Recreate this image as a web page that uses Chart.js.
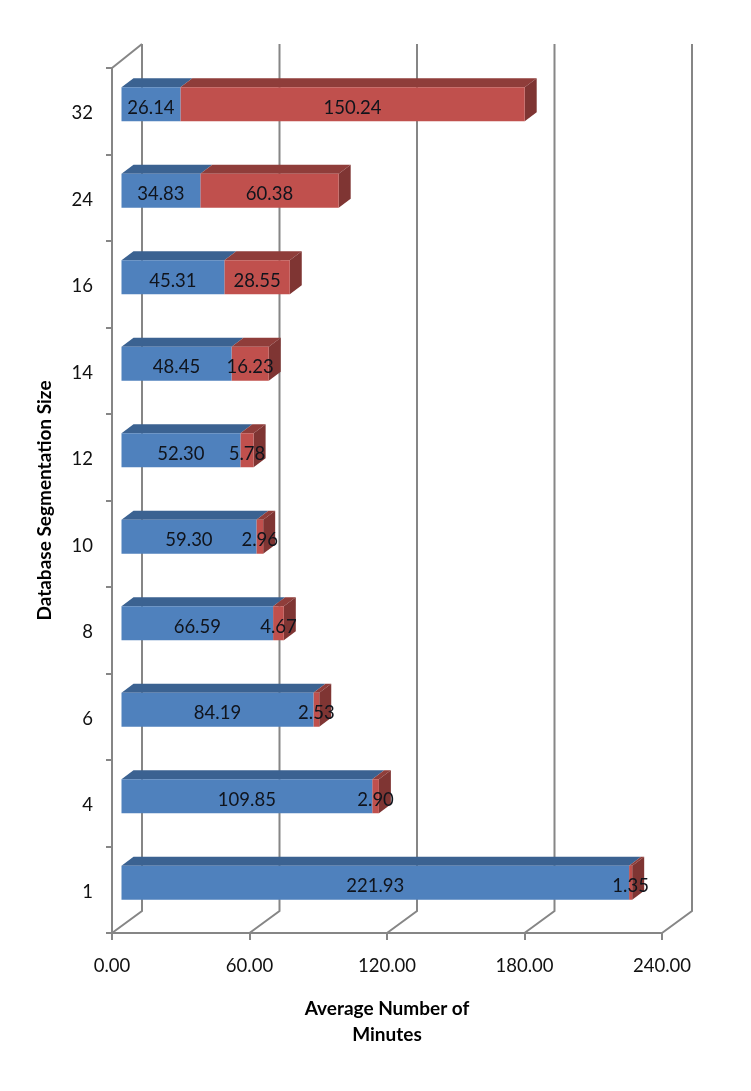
<!DOCTYPE html>
<html>
<head>
<meta charset="utf-8">
<title>Average Number of Minutes</title>
<script src="https://cdn.jsdelivr.net/npm/chart.js@4/dist/chart.umd.min.js"></script>
<style>
  html, body { margin: 0; padding: 0; background: #fff; }
  canvas { display: block; }
</style>
</head>
<body>
<canvas id="chart" width="751" height="1091"></canvas>
<script>
const categories = ['1', '4', '6', '8', '10', '12', '14', '16', '24', '32'];
const blueValues = [221.93, 109.85, 84.19, 66.59, 59.30, 52.30, 48.45, 45.31, 34.83, 26.14];
const redValues = [1.35, 2.90, 2.53, 4.67, 2.96, 5.78, 16.23, 28.55, 60.38, 150.24];
const xTickLabels = ['0.00', '60.00', '120.00', '180.00', '240.00'];
const yTitle = 'Database Segmentation Size';
const xTitle = ['Average Number of', 'Minutes'];

const FONT = 'Lato, Carlito, sans-serif';
const AXIS = '#868686';
// offsets of the fake 3d look
const wallDx = 30, wallDy = -22;
const barDx = 8.5, barDy = -7;
const depthDx = 12, depthDy = -9;

function poly(ctx, pts, color) {
    ctx.fillStyle = color;
    ctx.beginPath();
    pts.forEach((p, i) => i ? ctx.lineTo(p[0], p[1]) : ctx.moveTo(p[0], p[1]));
    ctx.closePath();
    ctx.fill();
}

const fake3d = {
    id: 'fake3d',
    beforeDatasetsDraw(chart) {
        const { ctx, chartArea: a, scales: { x } } = chart;
        ctx.save();
        ctx.strokeStyle = AXIS;
        ctx.lineWidth = 2;
        // walls: floor slants and back gridlines
        x.ticks.forEach((t, i) => {
            const px = x.getPixelForTick(i);
            ctx.beginPath();
            ctx.moveTo(px, a.bottom);
            ctx.lineTo(px + wallDx, a.bottom + wallDy);
            ctx.lineTo(px + wallDx, a.top + wallDy - 2);
            ctx.stroke();
        });
        ctx.beginPath();
        ctx.moveTo(a.left, a.top);
        ctx.lineTo(a.left + wallDx, a.top + wallDy - 2);
        ctx.stroke();
        ctx.restore();

        // top and side faces of the bars
        const tops = ['#3B6291', '#8F3D3A'];
        chart.data.datasets.forEach((ds, di) => {
            chart.getDatasetMeta(di).data.forEach(bar => {
                const t = bar.y - bar.height / 2 + barDy;
                const b = bar.y + bar.height / 2 + barDy;
                const l = bar.base + barDx;
                const r = bar.x + barDx;
                poly(ctx, [[l, t], [l + depthDx, t + depthDy], [r + depthDx, t + depthDy], [r, t]], tops[di]);
                if (di === 1) {
                    poly(ctx, [[r, t], [r + depthDx, t + depthDy], [r + depthDx, b + depthDy], [r, b]], '#7F3533');
                }
            });
        });
    },
    beforeDatasetDraw(chart) {
        chart.ctx.save();
        chart.ctx.translate(barDx, barDy);
    },
    afterDatasetDraw(chart) {
        chart.ctx.restore();
    },
    afterDraw(chart) {
        const { ctx } = chart;
        ctx.save();
        ctx.fillStyle = '#10141c';
        ctx.font = '18.5px ' + FONT;
        ctx.textAlign = 'center';
        ctx.textBaseline = 'middle';
        // value labels centred on each segment
        chart.data.datasets.forEach((ds, di) => {
            chart.getDatasetMeta(di).data.forEach((bar, i) => {
                ctx.fillText(ds.data[i].toFixed(2), (bar.x + bar.base) / 2 + barDx, bar.y + barDy + 3.5);
            });
        });
        ctx.restore();
    }
};

new Chart(document.getElementById('chart'), {
    type: 'bar',
    data: {
        labels: categories,
        datasets: [
            { label: 'Series 1', data: blueValues, backgroundColor: '#4F81BD', stack: 's' },
            { label: 'Series 2', data: redValues, backgroundColor: '#C0504D', stack: 's' }
        ]
    },
    plugins: [fake3d],
    options: {
        responsive: false,
        animation: false,
        indexAxis: 'y',
        barPercentage: 0.395,
        categoryPercentage: 1,
        layout: { padding: { top: 68, right: 89, bottom: 43 } },
        plugins: { legend: { display: false }, tooltip: { enabled: false } },
        scales: {
            x: {
                stacked: true,
                min: 0,
                max: 240,
                afterFit(s) { s.height = 115; },
                ticks: {
                    stepSize: 60,
                    maxRotation: 0,
                    padding: 15,
                    color: '#111',
                    font: { family: FONT, size: 18.5 },
                    callback: (v, i) => xTickLabels[i]
                },
                grid: { drawOnChartArea: false, color: AXIS, lineWidth: 2, tickLength: 7 },
                border: { color: AXIS, width: 2 },
                title: {
                    display: true,
                    text: xTitle,
                    color: '#000',
                    font: { family: FONT, size: 19, weight: 'bold', lineHeight: 1.37 },
                    padding: 0
                }
            },
            y: {
                stacked: true,
                reverse: true,
                afterFit(s) { s.width = 112; },
                ticks: {
                    padding: 13,
                    labelOffset: 2,
                    color: '#111',
                    font: { family: FONT, size: 18.5 }
                },
                grid: { drawOnChartArea: false, color: AXIS, lineWidth: 2, tickLength: 6, offset: true },
                border: { color: AXIS, width: 2 },
                title: {
                    display: true,
                    text: yTitle,
                    color: '#000',
                    font: { family: FONT, size: 19, weight: 'bold', lineHeight: 1.2 },
                    padding: { top: 33, bottom: 0 }
                }
            }
        }
    }
});
</script>
</body>
</html>
